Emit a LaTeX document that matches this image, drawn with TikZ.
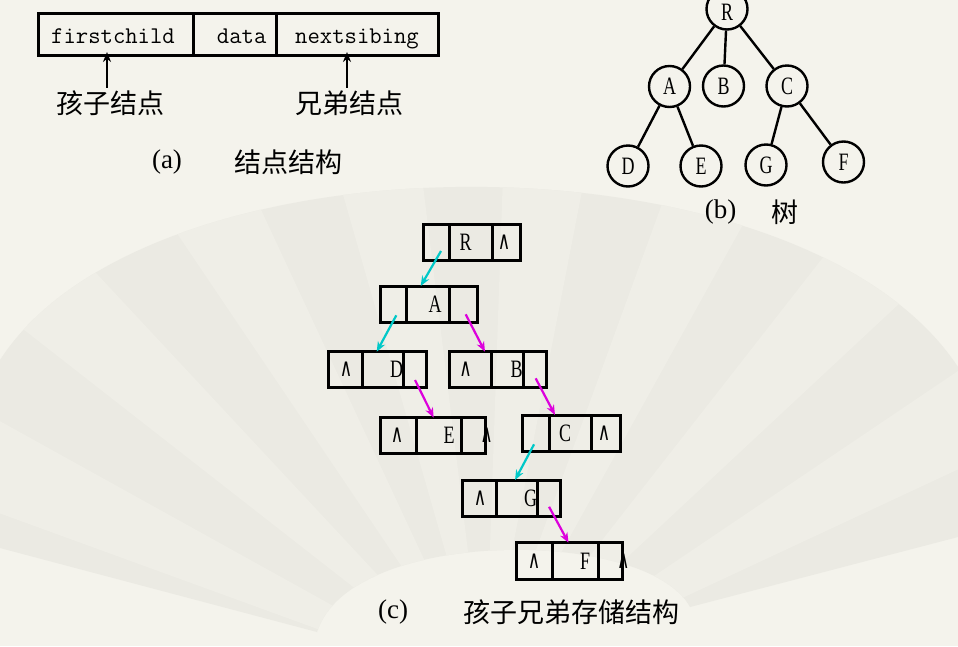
\documentclass[tikz,border=0pt]{standalone}
\usepackage{fontspec}
\usepackage{graphicx}
\usetikzlibrary{arrows.meta,calc}
\setmainfont{Liberation Serif}
\newfontfamily\cjk{Noto Sans CJK SC}
\newfontfamily\nserif[FakeStretch=0.72]{Liberation Serif}
\newfontfamily\symf{DejaVu Sans}
\definecolor{bgc}{RGB}{244,243,236}
\definecolor{fanA}{RGB}{235,234,227}
\definecolor{fanB}{RGB}{239,238,231}
\definecolor{cyanarr}{RGB}{0,200,200}
\definecolor{magarr}{RGB}{220,0,220}
\newcommand{\nilsym}{\scalebox{0.85}[1.25]{\fontsize{20}{20}\symf ∧}}
\newcommand{\threecell}[7]{%
  \node[cell, minimum width={#3-#2}, minimum height={#7-#6}] (#1a) at ({(#2+#3)/2},{(#6+#7)/2}) {};
  \node[cell, minimum width={#4-#3}, minimum height={#7-#6}] (#1b) at ({(#3+#4)/2},{(#6+#7)/2}) {};
  \node[cell, minimum width={#5-#4}, minimum height={#7-#6}] (#1c) at ({(#4+#5)/2},{(#6+#7)/2}) {};
}
\tikzset{
  cell/.style={draw, line width=3pt, inner sep=0pt, outer sep=0pt},
  ltr/.style={inner sep=0pt, font=\fontsize{25}{25}\nserif},
  nilt/.style={inner sep=0pt},
  cjkt/.style={inner sep=0pt, font=\fontsize{27}{27}\cjk},
  part/.style={inner sep=0pt, font=\fontsize{27}{27}\selectfont},
  mt/.style={inner sep=0pt, anchor=base, font=\fontsize{24}{24}\ttfamily},
  tn/.style={circle, draw, line width=2.4pt, minimum size=41pt, inner sep=0pt, font=\fontsize{25}{25}\nserif},
  tedge/.style={line width=2.4pt},
  barrow/.style={line width=2.4pt, -{Stealth[length=10pt,width=8pt]}},
  carrow/.style={line width=2.2pt, cyanarr, -{Stealth[length=10pt,width=8pt]}},
  marrow/.style={line width=2.2pt, magarr, -{Stealth[length=10pt,width=8pt]}}
}
\begin{document}
\begin{tikzpicture}[x=1pt,y=-1pt]
\useasboundingbox (0,0) rectangle (958,646);
\clip (0,0) rectangle (958,646);
\fill[bgc] (0,0) rectangle (958,646);
% fan background
\begin{scope}
  \clip (0,548) -- (317,632) .. controls (350,527) and (647,527) .. (690,607) -- (958,537) -- (958,367) .. controls (800,128) and (150,128) .. (0,360) -- cycle;
  \fill[fanA] (0,0) rectangle (958,646);
  \coordinate (pv) at (485,690);
  \foreach \a in {-178,-160,...,-10} {
    \fill[fanB] (pv) -- ($(pv)+(\a:1000)$) -- ($(pv)+(\a+9:1000)$) -- cycle;
  }
\end{scope}

% (a) node structure
\node[cell, minimum width=155, minimum height=42] (fc) at (115.5,34) {};
\node[cell, minimum width=83, minimum height=42] (dt) at (234.5,34) {};
\node[cell, minimum width=162, minimum height=42] (ns) at (357,34) {};
\node[mt] (fct) at (113,43.5) {firstchild};
\node[mt] (dtt) at (241.7,43.5) {data};
\node[mt] (nst) at (357,43.5) {nextsibing};
\node[cjkt] (kid) at (110,103.5) {孩子结点};
\node[cjkt] (sib) at (349,103.5) {兄弟结点};
\draw[barrow] ([shift={(-3,-3)}]kid.north) -- ([shift={(-3,-3)}]kid.north |- fc.south);
\draw[barrow] ([shift={(-2,-3)}]sib.north) -- ([shift={(-2,-3)}]sib.north |- ns.south);
\node[part] (capa) at (167,162) {(a)};
\node[cjkt] (capat) at (288,162) {结点结构};

% (b) tree
\node[tn] (tR) at (727,9) {};
\node[ltr] (tRt) at (727,12) {R};
\node[tn] (tA) at (669.5,86.5) {A};
\node[tn] (tB) at (723.5,86) {B};
\node[tn] (tC) at (787,86) {C};
\node[tn] (tD) at (628,166) {D};
\node[tn] (tE) at (701,166) {E};
\node[tn] (tG) at (766,165) {G};
\node[tn] (tF) at (843.5,162) {F};
\draw[tedge] (tR) -- (tA);
\draw[tedge] (tR) -- (tB);
\draw[tedge] (tR) -- (tC);
\draw[tedge] (tA) -- (tD);
\draw[tedge] (tA) -- (tE);
\draw[tedge] (tC) -- (tG);
\draw[tedge] (tC) -- (tF);
\node[part] (capb) at (720.5,212) {(b)};
\node[cjkt] (capbt) at (785,212) {树};

% (c) child-sibling storage
\threecell{R}{423}{449}{492}{520}{224}{260}
\threecell{A}{380}{406}{449}{477}{286}{322.7}
\threecell{D}{328}{362}{403}{426}{351.7}{387.7}
\threecell{B}{449}{491}{523.3}{546}{351.7}{387.7}
\threecell{E}{380}{416.3}{461}{485}{417.7}{453.5}
\threecell{C}{522.7}{549}{591}{620}{415}{451}
\threecell{G}{462.7}{496}{537.3}{560}{480}{516.7}
\threecell{F}{516.7}{552.7}{598.3}{622.3}{542.7}{579}

\node[ltr] (Rt) at (465.7,242) {R};
\node[nilt] (Rn) at (504,242) {\nilsym};
\node[ltr] (At) at (435,304) {A};
\node[nilt] (Dn) at (346,369.5) {\nilsym};
\node[ltr] (Dt) at (396.7,369.5) {D};
\node[nilt] (Bn) at (465.7,369.5) {\nilsym};
\node[ltr] (Bt) at (516.7,369.5) {B};
\node[nilt] (En1) at (397,435.6) {\nilsym};
\node[ltr] (Et) at (449,435.6) {E};
\node[nilt] (En2) at (486.7,435.6) {\nilsym};
\node[ltr] (Ct) at (565,433) {C};
\node[nilt] (Cn) at (604,433) {\nilsym};
\node[nilt] (Gn) at (480,498) {\nilsym};
\node[ltr] (Gt) at (530.7,498) {G};
\node[nilt] (Fn1) at (534,561) {\nilsym};
\node[ltr] (Ft) at (585,561) {F};
\node[nilt] (Fn2) at (623.3,561) {\nilsym};

\draw[carrow] ([shift={(5,9)}]Ra.center) -- ([xshift=-6.8pt]Ab.north);
\draw[carrow] ([shift={(3.3,11)}]Aa.center) -- ([xshift=-5.8pt]Db.north);
\draw[marrow] ([shift={(2.7,10)}]Ac.center) -- ([xshift=15pt]Ba.north);
\draw[marrow] ([shift={(0.5,10.3)}]Dc.center) -- ([xshift=-5pt]Eb.north);
\draw[marrow] ([shift={(1,8.6)}]Bc.center) -- ([xshift=-15pt]Cb.north);
\draw[carrow] ([shift={(-1.8,11.3)}]Ca.center) -- ([xshift=-1.6pt]Gb.north);
\draw[marrow] ([shift={(0.4,8.4)}]Gc.center) -- ([xshift=-7pt]Fb.north);

\node[part] (capc) at (393,612) {(c)};
\node[cjkt] (capct) at (571.5,612) {孩子兄弟存储结构};
\end{tikzpicture}
\end{document}
